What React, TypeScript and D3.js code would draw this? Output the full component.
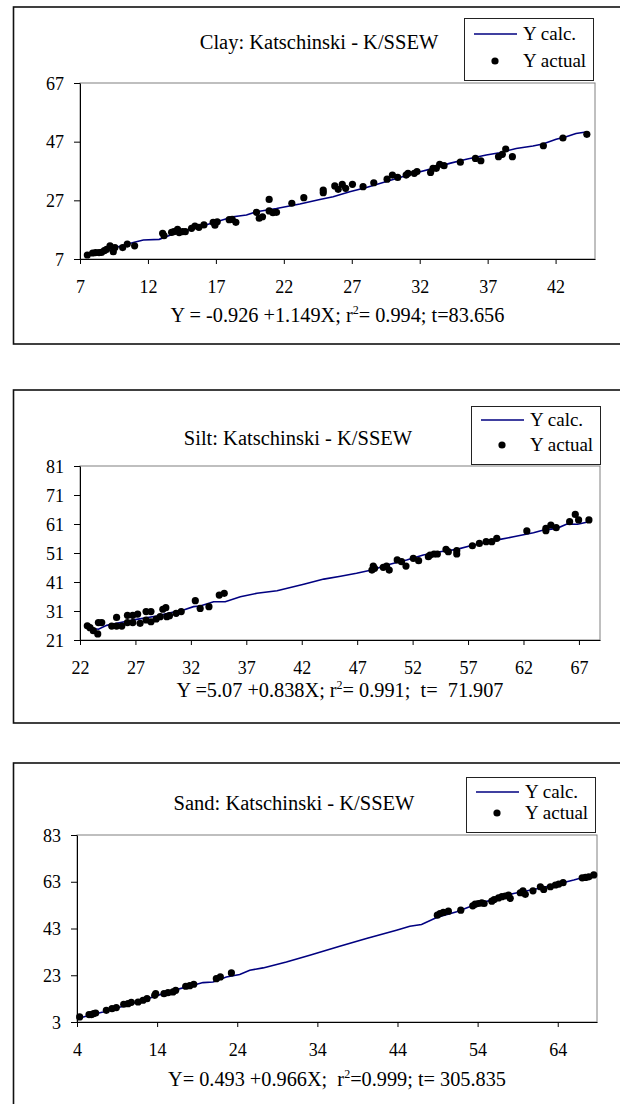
import React, { useEffect, useRef } from "react";
import * as d3 from "d3";

type Pt = [number, number];

// ---- Clay ----
const clayActual: Pt[] = [
  [7.54, 8.36], [7.93, 9.05], [8.15, 9.16], [8.4, 9.16], [8.59, 9.27], [8.79, 9.84], [8.96, 10.3],
  [9.21, 11.5], [9.45, 9.5], [9.57, 10.9], [10.14, 10.9], [10.48, 12.1], [11.02, 11.5], [13.08, 15.75],
  [13.18, 14.95], [13.74, 16.1], [13.91, 16.3], [14.18, 17.1], [14.3, 16.0], [14.55, 16.3], [14.75, 16.3],
  [15.21, 17.45], [15.46, 18.25], [15.75, 17.8], [16.12, 18.6], [16.8, 19.5], [16.93, 18.5], [17.1, 19.7],
  [17.98, 20.4], [18.2, 20.5], [18.47, 19.5], [19.99, 22.9], [20.19, 20.9], [20.43, 21.4], [20.92, 27.3],
  [20.92, 23.4], [21.2, 22.8], [21.46, 22.9], [22.59, 26.0], [23.47, 27.9], [24.9, 30.5], [24.9, 29.6],
  [25.75, 31.9], [26.0, 30.75], [26.3, 32.45], [26.55, 31.1], [27.05, 32.45], [27.83, 31.65], [28.62, 33.0],
  [29.6, 34.2], [29.99, 35.6], [30.38, 34.8], [31.0, 35.6], [31.14, 36.2], [31.6, 36.2], [31.8, 36.8],
  [32.8, 36.5], [32.98, 37.9], [33.22, 37.9], [33.47, 39.3], [33.79, 38.8], [34.99, 40.0], [36.1, 41.3],
  [36.5, 40.5], [37.8, 41.9], [38.08, 42.7], [38.33, 44.5], [38.82, 41.9], [41.1, 45.6], [42.54, 48.25],
  [44.3, 49.5],
];
const clayCalc: Pt[] = [
  [7.54, 8.4], [9.7, 11.0], [10.92, 12.6], [11.66, 13.5], [12.83, 13.7], [13.86, 15.5], [15.82, 18.0],
  [17.05, 19.7], [18.27, 21.4], [19.25, 22.0], [19.99, 23.1], [21.46, 24.2], [23.18, 25.75], [24.65, 27.3],
  [25.63, 28.25], [26.85, 29.95], [28.08, 31.4], [29.55, 33.4], [30.53, 34.8], [31.75, 36.4], [32.98, 37.9],
  [34.2, 39.6], [35.43, 41.0], [36.9, 42.45], [37.88, 43.25], [39.1, 44.7], [40.33, 45.5], [41.06, 46.2],
  [42.04, 47.8], [42.78, 48.7], [43.5, 49.8], [44.24, 50.3],
];
const clayXTicks = [7, 12, 17, 22, 27, 32, 37, 42];
const clayYTicks = [7, 27, 47, 67];

// ---- Silt ----
const siltActual: Pt[] = [
  [22.66, 25.9], [22.9, 25.25], [23.2, 24.2], [23.6, 23.1], [23.66, 27.0], [23.96, 27.0], [24.86, 25.8],
  [25.3, 28.8], [25.3, 25.8], [25.77, 25.8], [26.28, 29.5], [26.28, 27.0], [26.76, 29.5], [26.76, 27.0],
  [27.2, 29.95], [27.42, 26.75], [27.96, 30.8], [27.96, 27.9], [28.4, 30.8], [28.4, 27.3], [28.87, 28.25],
  [29.23, 29.05], [29.47, 31.6], [29.74, 32.15], [29.83, 29.05], [30.07, 29.4], [30.67, 30.2], [31.13, 30.8],
  [32.4, 34.55], [32.84, 31.9], [33.63, 32.5], [34.56, 36.5], [35.01, 37.1],
  [48.33, 45.1], [48.45, 46.5], [48.57, 45.7], [49.35, 46.05], [49.65, 46.5], [49.89, 45.1], [50.61, 48.6],
  [51.0, 48.0], [51.4, 46.5], [52.06, 49.15], [52.54, 48.35], [53.42, 49.75], [53.57, 50.3], [53.93, 50.65],
  [54.23, 50.65], [55.01, 52.25], [55.22, 51.45], [55.98, 51.8], [55.98, 50.65], [57.39, 53.5], [58.02, 54.3],
  [58.63, 54.9], [59.14, 54.9], [59.59, 56.05], [62.3, 58.6], [64.02, 59.5], [64.02, 58.7], [64.47, 60.65],
  [64.95, 59.75], [66.16, 61.8], [66.67, 64.3], [66.97, 62.4], [67.9, 62.4],
];
const siltCalc: Pt[] = [
  [22.66, 25.25], [23.66, 24.7], [24.41, 26.05], [25.31, 26.75], [27.12, 28.1], [28.93, 29.3], [30.13, 30.4],
  [31.34, 31.35], [32.24, 32.5], [32.84, 32.7], [34.05, 34.2], [35.1, 34.2], [36.46, 35.9], [37.96, 37.1],
  [39.77, 38.0], [42.18, 40.2], [43.99, 42.0], [45.5, 43.0], [46.94, 44.0], [48.3, 45.15], [49.95, 47.1],
  [51.46, 48.6], [52.96, 50.3], [54.47, 51.45], [55.98, 52.25], [57.48, 53.75], [58.99, 54.9], [59.89, 55.7],
  [61.1, 56.6], [62.9, 58.0], [63.81, 58.9], [65.01, 59.5], [65.92, 61.0], [66.88, 60.9], [67.9, 61.8],
];
const siltXTicks = [22, 27, 32, 37, 42, 47, 52, 57, 62, 67];
const siltYTicks = [21, 31, 41, 51, 61, 71, 81];

// ---- Sand ----
const sandActual: Pt[] = [
  [4.33, 5.15], [5.5, 6.15], [5.79, 6.15], [6.08, 6.6], [6.33, 6.85], [7.66, 8.0], [8.37, 8.7], [8.91, 9.15],
  [9.83, 10.6], [10.37, 10.85], [10.78, 11.4], [11.62, 11.55], [12.24, 12.3], [12.74, 13.0], [13.7, 14.4],
  [13.82, 15.1], [14.86, 15.1], [15.36, 15.55], [15.98, 15.85], [16.32, 16.55], [17.57, 18.3], [18.07, 18.55],
  [18.57, 19.15], [21.39, 21.55], [21.89, 22.3], [23.27, 24.0],
  [48.97, 48.7], [49.3, 49.4], [49.72, 49.86], [50.35, 50.43], [51.9, 50.86], [53.39, 52.7], [53.69, 53.4],
  [54.1, 53.7], [54.52, 54.0], [54.81, 53.7], [55.77, 54.7], [56.07, 55.4], [56.61, 56.1], [57.03, 56.6],
  [57.44, 56.9], [57.86, 57.3], [58.07, 55.9], [59.32, 58.3], [59.66, 59.1], [59.95, 57.6], [60.91, 59.1],
  [61.83, 60.86], [62.25, 59.7], [63.08, 60.86], [63.71, 61.6], [64.13, 62.0], [64.67, 62.6], [67.05, 64.7],
  [67.47, 64.86], [67.88, 65.1], [68.5, 65.9],
];
const sandCalc: Pt[] = [
  [4, 4.43], [5.58, 5.86], [7.25, 7.29], [9.74, 9.71], [12.24, 12.29], [14.74, 15.14], [16.4, 16.86],
  [18.48, 18.71], [19.73, 19.86], [20.98, 20.14], [22.64, 22.29], [24.31, 23.29], [25.56, 25.14], [27.22, 26.14],
  [30.13, 28.71], [33.05, 31.57], [36.79, 35.43], [40.12, 38.71], [43.87, 42.29], [45.54, 44.0], [47.0, 44.71],
  [48.89, 47.71], [51.39, 50.14], [53.9, 53.43], [56.4, 55.86], [58.49, 58.0], [60.99, 59.71], [63.5, 61.57],
  [66.0, 63.71], [68.51, 66.14],
];
const sandXTicks = [4, 14, 24, 34, 44, 54, 64];
const sandYTicks = [3, 23, 43, 63, 83];

const legendLabels = ["Y calc.", "Y actual"];

const panels = [
  {
    title: "Clay: Katschinski - K/SSEW",
    eq: ["Y = -0.926 +1.149X; r", "2", "= 0.994; t=83.656"],
    actual: clayActual, calc: clayCalc, xTicks: clayXTicks, yTicks: clayYTicks,
    xDomain: [7, 44.9], yDomain: [7, 67],
    box: { y: 7, h: 337 }, plot: { l: 80, r: 595, t: 83, b: 259 },
    titleX: 319, titleY: 49, eqY: 322,
    legend: { x: 464, y: 18, w: 129, h: 62, r1: 16, r2: 43 },
  },
  {
    title: "Silt: Katschinski - K/SSEW",
    eq: ["Y =5.07 +0.838X; r", "2", "= 0.991;  t=  71.907"],
    actual: siltActual, calc: siltCalc, xTicks: siltXTicks, yTicks: siltYTicks,
    xDomain: [22, 68.9], yDomain: [21, 81],
    box: { y: 390, h: 333 }, plot: { l: 80, r: 600, t: 466, b: 640 },
    titleX: 298, titleY: 445, eqY: 697,
    legend: { x: 471, y: 406, w: 129, h: 58, r1: 14, r2: 39 },
  },
  {
    title: "Sand: Katschinski - K/SSEW",
    eq: ["Y= 0.493 +0.966X;  r", "2", "=0.999; t= 305.835"],
    actual: sandActual, calc: sandCalc, xTicks: sandXTicks, yTicks: sandYTicks,
    xDomain: [4, 68.9], yDomain: [3, 83],
    box: { y: 763, h: 400 }, plot: { l: 77, r: 597, t: 835, b: 1022 },
    titleX: 294, titleY: 810, eqY: 1086,
    legend: { x: 466, y: 777, w: 129, h: 55, r1: 15, r2: 36 },
  },
];

const FONT = "'Liberation Serif', 'Times New Roman', serif";

export default function App() {
  const ref = useRef<SVGSVGElement>(null);

  useEffect(() => {
    const svg = d3.select(ref.current);
    svg.selectAll("*").remove();

    panels.forEach((p) => {
      const g = svg.append("g");
      const x = d3.scaleLinear().domain(p.xDomain).range([p.plot.l, p.plot.r]);
      const y = d3.scaleLinear().domain(p.yDomain).range([p.plot.b, p.plot.t]);

      // outer chart frame (runs off the right edge)
      g.append("rect")
        .attr("x", 13.5).attr("y", p.box.y)
        .attr("width", 660).attr("height", p.box.h)
        .attr("fill", "#fff").attr("stroke", "#111").attr("stroke-width", 1.6);

      // plot area
      g.append("rect")
        .attr("x", p.plot.l).attr("y", p.plot.t)
        .attr("width", p.plot.r - p.plot.l).attr("height", p.plot.b - p.plot.t)
        .attr("fill", "#fff").attr("stroke", "#808080").attr("stroke-width", 1);

      // axes
      const xa = g.append("g")
        .attr("transform", `translate(0,${p.plot.b})`)
        .call(d3.axisBottom(x).tickValues(p.xTicks).tickSize(5).tickSizeOuter(0).tickFormat(d3.format("d")));
      xa.selectAll("text")
        .attr("y", 34).attr("dy", null)
        .style("font-family", FONT).attr("font-size", 18).attr("fill", "#000");

      const ya = g.append("g")
        .attr("transform", `translate(${p.plot.l},0)`)
        .call(d3.axisLeft(y).tickValues(p.yTicks).tickSize(6).tickSizeOuter(0).tickPadding(10).tickFormat(d3.format("d")));
      ya.selectAll("text")
        .attr("dy", "0.34em")
        .style("font-family", FONT).attr("font-size", 18).attr("fill", "#000");
      g.selectAll(".domain").attr("stroke", "#000");

      // Y calc. line
      const line = d3.line<Pt>().x((d) => x(d[0])).y((d) => y(d[1]));
      g.append("path")
        .datum(p.calc)
        .attr("d", line)
        .attr("fill", "none").attr("stroke", "#000080").attr("stroke-width", 1.6);

      // Y actual points
      g.append("g")
        .selectAll("circle")
        .data(p.actual)
        .enter()
        .append("circle")
        .attr("cx", (d) => x(d[0])).attr("cy", (d) => y(d[1]))
        .attr("r", 3.6).attr("fill", "#000");

      // title
      g.append("text")
        .attr("x", p.titleX).attr("y", p.titleY)
        .attr("text-anchor", "middle")
        .style("font-family", FONT).attr("font-size", 20.5)
        .text(p.title);

      // equation line
      const eq = g.append("text")
        .attr("x", (p.plot.l + p.plot.r) / 2).attr("y", p.eqY)
        .attr("text-anchor", "middle")
        .style("font-family", FONT).attr("font-size", 20.3)
        .style("white-space", "pre");
      eq.append("tspan").text(p.eq[0]);
      eq.append("tspan").attr("dy", -8).attr("font-size", 12).text(p.eq[1]);
      eq.append("tspan").attr("dy", 8).text(p.eq[2]);

      // legend
      const L = p.legend;
      const lg = g.append("g");
      lg.append("rect")
        .attr("x", L.x + 0.5).attr("y", L.y + 0.5).attr("width", L.w).attr("height", L.h)
        .attr("fill", "#fff").attr("stroke", "#222").attr("stroke-width", 1);
      lg.append("line")
        .attr("x1", L.x + 10).attr("x2", L.x + 53)
        .attr("y1", L.y + L.r1).attr("y2", L.y + L.r1)
        .attr("stroke", "#000080").attr("stroke-width", 1.6);
      lg.append("circle")
        .attr("cx", L.x + 31).attr("cy", L.y + L.r2).attr("r", 3.6).attr("fill", "#000");
      lg.selectAll("text.lab")
        .data(legendLabels)
        .enter()
        .append("text")
        .attr("class", "lab")
        .attr("x", L.x + 59)
        .attr("y", (_, i) => L.y + (i === 0 ? L.r1 : L.r2) + 6)
        .style("font-family", FONT).attr("font-size", 19)
        .text((d) => d);
    });
  }, []);

  return (
    <svg
      ref={ref}
      width={620}
      height={1104}
      style={{ position: "absolute", left: 0, top: 0, background: "#fff", fontFamily: FONT }}
    />
  );
}
